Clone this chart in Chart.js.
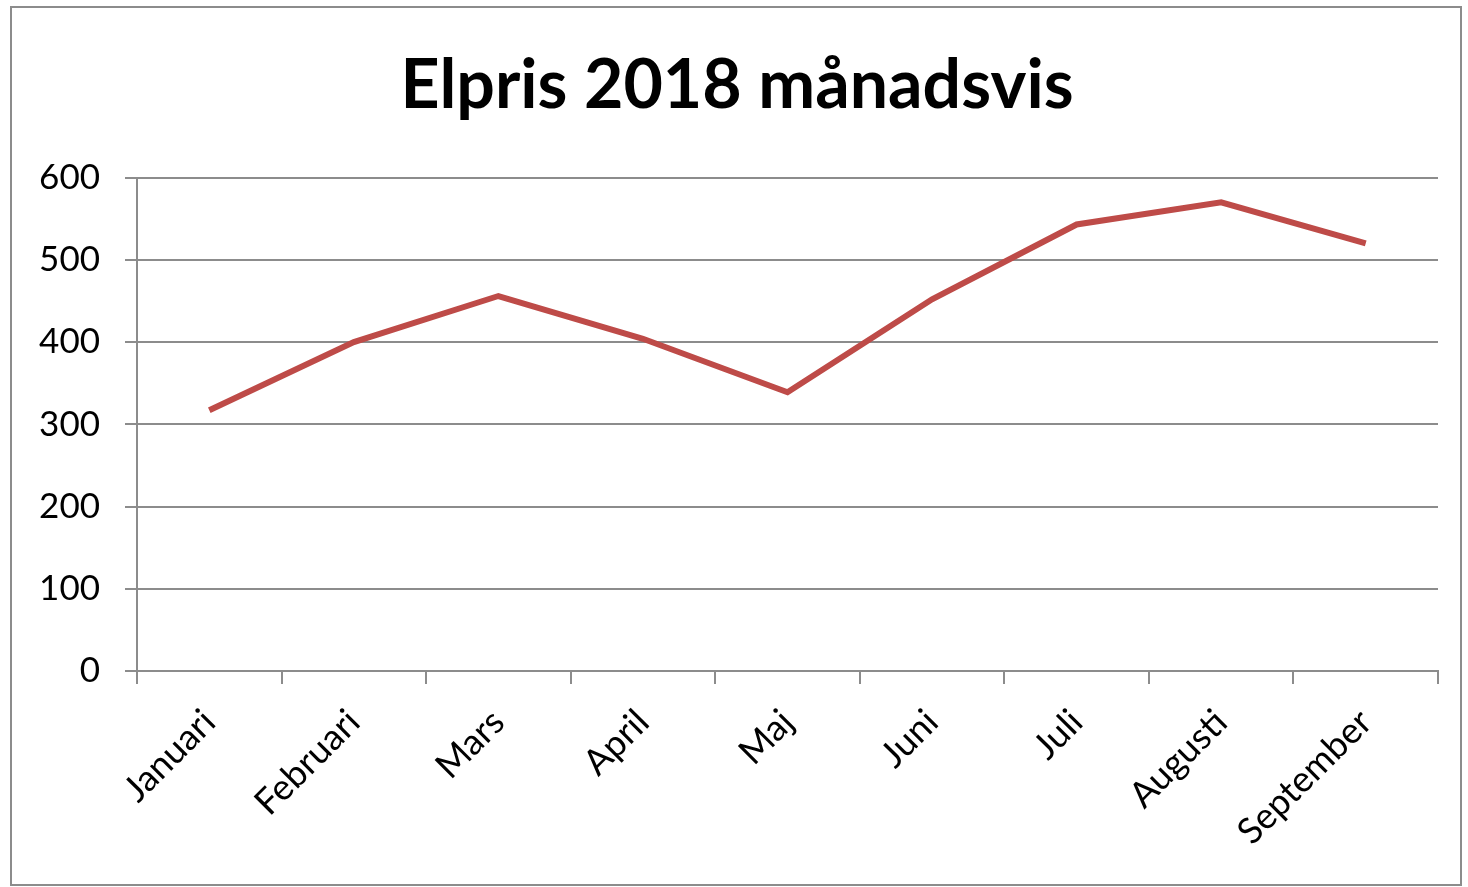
<!DOCTYPE html>
<html>
<head>
<meta charset="utf-8">
<script src="https://cdn.jsdelivr.net/npm/chart.js@4"></script>
<style>
  html, body { margin: 0; padding: 0; background: #fff; }
  #ram {
    position: absolute; left: 10px; top: 6px;
    width: 1452px; height: 880px;
    border: 2px solid #8c8c8c; box-sizing: border-box;
  }
</style>
</head>
<body>
<div id="ram"><canvas id="grafico"></canvas></div>
<script>
const manader = ['Januari', 'Februari', 'Mars', 'April', 'Maj', 'Juni', 'Juli', 'Augusti', 'September'];
const elpris = [317, 400, 456, 404, 339, 452, 543, 570, 520];
const yTicks = [0, 100, 200, 300, 400, 500, 600];

const grafico = document.getElementById('grafico')
const font = "Lato, 'Open Sans', sans-serif"

new Chart(grafico, {
    type: 'line',
    data: {
        labels: manader,
        datasets: [{
            label: 'Elpris',
            data: elpris,
            borderColor: '#BE4B48',
            borderWidth: 6,
            pointRadius: 0,
            tension: 0
        }]
    },
    options: {
        responsive: true,
        maintainAspectRatio: false,
        animation: false,
        // a bit of left padding pushes the title centre right, like the original
        layout: { padding: { left: 24, right: 22, top: 0, bottom: 12 } },
        plugins: {
            legend: { display: false },
            tooltip: { enabled: false },
            title: {
                display: true,
                text: 'Elpris 2018 månadsvis',
                color: '#000',
                font: { family: font, size: 68, weight: 'bold' },
                padding: { top: 37, bottom: 51 }
            }
        },
        scales: {
            x: {
                offset: true,
                grid: { offset: true, drawOnChartArea: false, drawTicks: true, tickLength: 13, color: '#8c8c8c', lineWidth: 2 },
                border: { color: '#8c8c8c', width: 2 },
                ticks: {
                    color: '#000',
                    font: { family: font, size: 36 },
                    minRotation: 45, maxRotation: 45,
                    padding: 17
                },
                afterFit: (axis) => { axis.height = 201 }
            },
            y: {
                min: 0, max: 600,
                afterBuildTicks: (axis) => { axis.ticks = yTicks.map(v => ({ value: v })) },
                grid: { color: '#8c8c8c', lineWidth: 2, tickLength: 12 },
                border: { color: '#8c8c8c', width: 2 },
                ticks: {
                    color: '#000',
                    font: { family: font, size: 35 },
                    padding: 25
                },
                afterFit: (axis) => { axis.width = 101 }
            }
        }
    }
})
</script>
</body>
</html>
